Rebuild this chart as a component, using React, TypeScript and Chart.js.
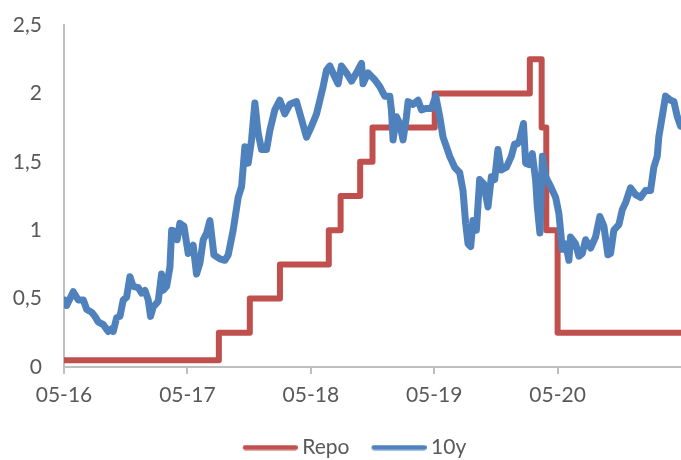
import React, { useEffect, useRef } from "react";
import { Chart, registerables } from "chart.js";

Chart.register(...registerables);

// x positions are months since May 2016
const tickMonths = [0, 12, 24, 36, 48];
const tickLabels = ["05-16", "05-17", "05-18", "05-19", "05-20"];
const yTicks = [0, 0.5, 1, 1.5, 2, 2.5];

const repoMonths = [0, 15.06, 18.07, 21, 25.75, 26.9, 28.8, 30, 36.05, 45.3, 46.45, 46.9, 48.0, 60];
const repoValues = [0.05, 0.25, 0.5, 0.75, 1.0, 1.25, 1.5, 1.75, 2.0, 2.25, 1.75, 1.0, 0.25, 0.25];

const tenYMonths = [
  0.1, 0.26, 0.9, 1.39, 1.88, 2.21, 2.69, 3.01, 3.33, 3.82, 4.3, 4.64, 4.79, 5.12, 5.44, 5.76, 6.09, 6.41, 6.73, 7.22,
  7.55, 7.87, 8.19, 8.42, 8.68, 9.16, 9.49, 9.65, 9.98, 10.3, 10.47, 10.79, 11.01, 11.27, 11.66, 12.08, 12.56, 12.89,
  13.22, 13.54, 13.87, 14.19, 14.58, 15.16, 15.64, 15.97, 16.45, 16.94, 17.27, 17.59, 17.91, 18.24, 18.56, 18.88,
  19.21, 19.7, 20.02, 20.5, 20.99, 21.47, 21.96, 22.61, 23.1, 23.58, 24.07, 24.56, 24.88, 25.2, 25.53, 25.85, 26.33,
  26.65, 26.98, 27.47, 27.96, 28.44, 28.93, 29.08, 29.57, 30.22, 30.71, 31.19, 31.68, 31.84, 32.0, 32.33, 32.65,
  32.97, 33.3, 33.46, 33.94, 34.43, 34.76, 35.24, 35.73, 36.15, 36.54, 36.86, 37.19, 37.51, 37.99, 38.48, 38.8,
  39.06, 39.29, 39.55, 39.77, 40.1, 40.42, 40.81, 41.23, 41.56, 41.88, 42.2, 42.53, 43.02, 43.5, 43.82, 44.08,
  44.31, 44.68, 44.89, 45.21, 45.54, 45.86, 46.03, 46.28, 46.52, 46.84, 47.32, 47.81, 48.13, 48.46, 48.78, 49.1,
  49.26, 49.75, 50.07, 50.4, 50.72, 51.21, 51.69, 52.11, 52.5, 52.89, 53.15, 53.47, 53.96, 54.29, 54.61, 55.09,
  55.58, 56.07, 56.55, 57.04, 57.36, 57.69, 57.84, 58.17, 58.5, 58.98, 59.31, 59.64, 59.96,
];
const tenYValues = [
  0.49, 0.45, 0.55, 0.49, 0.49, 0.42, 0.4, 0.37, 0.33, 0.31, 0.26, 0.28, 0.26, 0.36, 0.37, 0.49, 0.51, 0.66, 0.59, 0.58,
  0.54, 0.56, 0.49, 0.37, 0.44, 0.48, 0.68, 0.56, 0.59, 0.73, 1.0, 0.99, 0.93, 1.05, 1.03, 0.83, 0.89, 0.68,
  0.76, 0.93, 0.98, 1.07, 0.82, 0.79, 0.78, 0.82, 1.0, 1.24, 1.32, 1.61, 1.49, 1.66, 1.93, 1.71,
  1.59, 1.59, 1.73, 1.88, 1.95, 1.85, 1.92, 1.94, 1.81, 1.68, 1.76, 1.85, 1.95, 2.05, 2.17, 2.2, 2.12,
  2.07, 2.2, 2.15, 2.09, 2.15, 2.22, 2.07, 2.15, 2.1, 2.05, 1.98, 1.98, 1.88, 1.66, 1.83, 1.78,
  1.66, 1.83, 1.94, 1.92, 1.95, 1.88, 1.89, 1.89, 1.98, 1.83, 1.68, 1.61, 1.54, 1.46, 1.42, 1.29,
  1.05, 0.9, 0.88, 1.07, 1.0, 1.37, 1.34, 1.17, 1.39, 1.37, 1.59, 1.44, 1.46, 1.54, 1.63, 1.63,
  1.66, 1.78, 1.49, 1.48, 1.56, 1.37, 1.17, 0.98, 1.54, 1.39, 1.32, 1.24, 1.12, 0.86, 0.9, 0.78,
  0.95, 0.9, 0.81, 0.83, 0.93, 0.87, 0.95, 1.1, 1.03, 0.82, 0.83, 1.0, 1.04, 1.15, 1.2, 1.31,
  1.26, 1.24, 1.29, 1.29, 1.46, 1.54, 1.68, 1.83, 1.98, 1.95, 1.94, 1.83, 1.76,
];

const RED = "#C0504D";
const BLUE = "#4F81BD";
const TEXT = "#595959";
const AXIS = "#BFBFBF";
const FONT = "Lato";
const FS = 21;

// legend swatch: a thick rounded line, offset so the label sits close to it
function legendSwatch(color: string): HTMLCanvasElement {
  const c = document.createElement("canvas");
  c.width = 61;
  c.height = 6;
  const ctx = c.getContext("2d")!;
  ctx.strokeStyle = color;
  ctx.lineWidth = 5;
  ctx.lineCap = "round";
  ctx.beginPath();
  ctx.moveTo(8.5, 3);
  ctx.lineTo(58.5, 3);
  ctx.stroke();
  return c;
}

// nudge the bottom legend so it is centred a little to the right, as in the original
const legendShift = {
  id: "legendShift",
  afterLayout(chart: any) {
    if (chart.legend) chart.legend.left = 28;
  },
};

export default function App() {
  const ref = useRef<HTMLCanvasElement | null>(null);

  useEffect(() => {
    if (!ref.current) return;
    const chart = new Chart(ref.current, {
      type: "line",
      data: {
        datasets: [
          {
            label: "10y",
            data: tenYMonths.map((m, i) => ({ x: m, y: tenYValues[i] })),
            borderColor: BLUE,
            backgroundColor: BLUE,
            borderWidth: 7,
            borderCapStyle: "round",
            borderJoinStyle: "round",
            pointRadius: 0,
            pointStyle: legendSwatch(BLUE),
            tension: 0,
          },
          {
            label: "Repo",
            data: repoMonths.map((m, i) => ({ x: m, y: repoValues[i] })),
            borderColor: RED,
            backgroundColor: RED,
            borderWidth: 6,
            borderCapStyle: "round",
            borderJoinStyle: "round",
            pointRadius: 0,
            pointStyle: legendSwatch(RED),
            stepped: "before",
          },
        ],
      },
      plugins: [legendShift],
      options: {
        responsive: false,
        animation: false,
        layout: { padding: { top: 25, right: 0, left: 0, bottom: -8 } },
        plugins: {
          tooltip: { enabled: false },
          legend: {
            position: "bottom",
            labels: {
              usePointStyle: true,
              pointStyleWidth: 49,
              boxHeight: 6,
              padding: 22,
              color: TEXT,
              font: { family: FONT, size: FS },
              sort: (a: any, b: any) => b.datasetIndex - a.datasetIndex,
            },
          },
        },
        scales: {
          x: {
            type: "linear",
            min: 0,
            max: 60,
            afterBuildTicks: (scale: any) => {
              scale.ticks = tickMonths.map((v) => ({ value: v }));
            },
            afterFit: (scale: any) => {
              scale.height = 48;
              scale.paddingLeft = 0;
              scale.paddingRight = 0;
            },
            grid: {
              drawOnChartArea: false,
              drawTicks: true,
              tickLength: 7,
              color: AXIS,
              lineWidth: 2,
            },
            border: { display: true, color: AXIS, width: 2 },
            ticks: {
              autoSkip: false,
              maxRotation: 0,
              padding: 9,
              color: TEXT,
              font: { family: FONT, size: FS },
              callback: (v: any) => {
                const i = tickMonths.indexOf(Number(v));
                return i >= 0 ? tickLabels[i] : "";
              },
            },
          },
          y: {
            min: 0,
            max: 2.5,
            afterBuildTicks: (scale: any) => {
              scale.ticks = yTicks.map((v) => ({ value: v }));
            },
            afterFit: (scale: any) => {
              scale.width = 64;
              scale.paddingTop = 0;
              scale.paddingBottom = 0;
            },
            grid: { display: false, drawTicks: false },
            border: { display: true, color: AXIS, width: 2 },
            ticks: {
              padding: 22,
              color: TEXT,
              font: { family: FONT, size: FS },
              callback: (v: any) => String(v).replace(".", ","),
            },
          },
        },
      },
    });
    return () => chart.destroy();
  }, []);

  return (
    <div style={{ position: "absolute", left: 0, top: 0, width: 681, height: 460 }}>
      <canvas ref={ref} width={681} height={460} />
    </div>
  );
}
